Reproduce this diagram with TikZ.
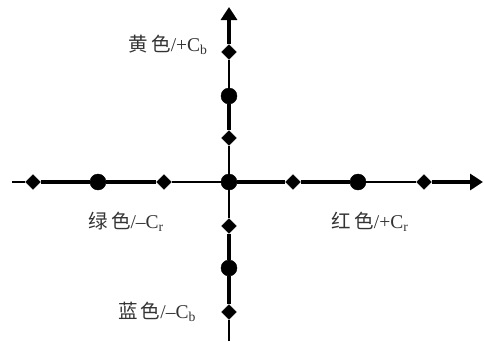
\documentclass[tikz,border=0pt]{standalone}
\usepackage{fontspec}
\setmainfont{Liberation Serif}
\newfontfamily\cjk{Noto Sans CJK SC}
\usetikzlibrary{shapes.geometric, arrows.meta, positioning}
\tikzset{
  dot/.style    = {circle, fill=black, draw=black, inner sep=0pt, minimum size=16pt},
  dmd/.style    = {diamond, fill=black, draw=black, inner sep=0pt, minimum size=15pt},
  axthin/.style = {line width=1.5pt, black},
  axthick/.style= {line width=3.2pt, black},
  axlabel/.style= {font=\fontsize{19.5}{22}\selectfont, text=black!80, inner sep=0pt},
}
\begin{document}
\begin{tikzpicture}[x=1pt, y=1pt]
\useasboundingbox (-229,-159) rectangle (255,182);

% ==================== 原点 ====================
\node[dot] (o) at (0,0) {};

% ==================== 水平轴：Cr ====================
\coordinate (xl) at (-217,0);
\coordinate (xr) at (254,0);
\node[dmd] (dl1) at (-196,0) {};
\node[dot] (cl)  at (-131,0) {};
\node[dmd] (dl2) at (-65,0)  {};
\node[dmd] (dr1) at (64,0)   {};
\node[dot] (cr)  at (129,0)  {};
\node[dmd] (dr2) at (195,0)  {};

\draw[axthin]  (xl) -- (dl1);
\draw[axthick] (dl1) -- (cl);
\draw[axthick] (cl) -- (dl2);
\draw[axthin]  (dl2) -- (o);
\draw[axthick] (o) -- (dr1);
\draw[axthick] (dr1) -- (cr);
\draw[axthin]  (cr) -- (dr2);
\draw[axthick, -{Triangle[length=13pt,width=16pt]}] (dr2) -- (xr);

% ==================== 垂直轴：Cb ====================
\coordinate (yt) at (0,175);
\coordinate (yb) at (0,-159);
\node[dmd] (du2) at (0,130)  {};
\node[dot] (cu)  at (0,86)   {};
\node[dmd] (du1) at (0,44)   {};
\node[dmd] (dd1) at (0,-44)  {};
\node[dot] (cd)  at (0,-86)  {};
\node[dmd] (dd2) at (0,-130) {};

\draw[axthick, -{Triangle[length=13pt,width=16pt]}] (du2) -- (yt);
\draw[axthin]  (du2) -- (cu);
\draw[axthick] (cu) -- (du1);
\draw[axthin]  (du1) -- (o);
\draw[axthin]  (o) -- (dd1);
\draw[axthick] (dd1) -- (cd);
\draw[axthick] (cd) -- (dd2);
\draw[axthin]  (dd2) -- (yb);

% ==================== 标签 ====================
\node[axlabel] (ly) at (-61,137)  {{\cjk 黄\,色}/+C\textsubscript{b}};
\node[axlabel] (lg) at (-103,-40) {{\cjk 绿\,色}/--C\textsubscript{r}};
\node[axlabel] (lr) at (141,-40)  {{\cjk 红\,色}/+C\textsubscript{r}};
\node[axlabel] (lb) at (-72,-130) {{\cjk 蓝\,色}/--C\textsubscript{b}};

\end{tikzpicture}
\end{document}
